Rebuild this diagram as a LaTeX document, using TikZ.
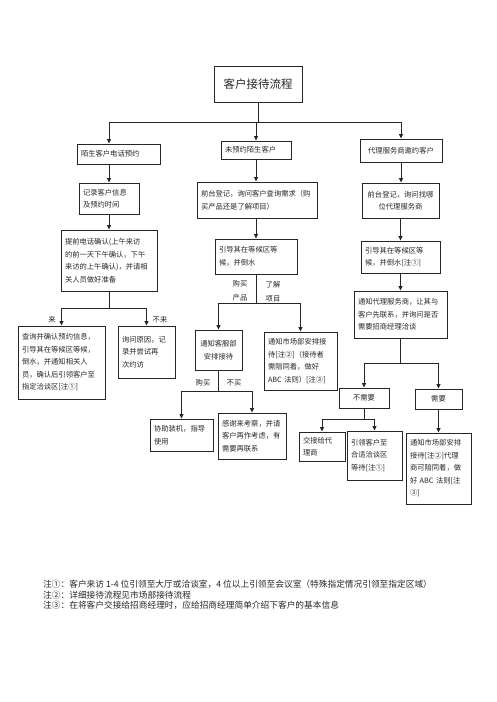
\documentclass[tikz,border=0pt]{standalone}
\usepackage{fontspec}
\usepackage{tikz}
\usetikzlibrary{positioning,arrows.meta}
\newfontfamily\cjk{Noto Sans CJK SC}

\tikzset{
  box/.style={draw=black!85, line width=0.9pt, inner xsep=4pt, inner ysep=3pt, align=left,
    font=\cjk\fontsize{7.3}{12.5}\selectfont, text=black!85},
  cbox/.style={box, align=center},
  conn/.style={draw=black!85, line width=0.9pt},
  arr/.style={conn, -{Triangle[length=4.5pt,width=4pt]}},
  lbl/.style={font=\cjk\fontsize{7.3}{12.5}\selectfont, inner sep=0pt, align=center, text=black!85},
}

\begin{document}
\begin{tikzpicture}[x=1pt, y=-1pt]
\useasboundingbox (0,0) rectangle (496,702);
% title
\node[cbox, text width=80pt, minimum height=36pt, font=\cjk\fontsize{11.5}{14}\selectfont] (title) at (258,84) {客户接待流程};
% first row
\node[box, text width=75pt, minimum height=20pt] (L1) at (118.5,154) {陌生客户电话预约};
\node[box, text width=62pt, minimum height=18pt] (M1) at (256,150) {未预约陌生客户};
\node[cbox, text width=74pt, minimum height=23pt] (R1) at (401,150.5) {代理服务商邀约客户};
% second row
\node[box, text width=52pt, minimum height=31pt] (L2) at (109,198.5) {记录客户信息\\及预约时间};
\node[box, text width=112pt, minimum height=36pt] (M2) at (257,200) {前台登记，询问客户查询需求（购\\买产品还是了解项目）};
\node[cbox, text width=69pt, minimum height=35pt] (R2) at (400.5,200.5) {前台登记，询问找哪\\位代理服务商};
% third row
\node[box, text width=88pt, minimum height=61pt] (L3) at (109,260.5) {提前电话确认(上午来访\\的前一天下午确认，下午\\来访的上午确认)，并请相\\关人员做好准备};
\node[box, text width=74pt, minimum height=35pt] (M3) at (256,256.5) {引导其在等候区等\\候，并倒水};
\node[box, text width=71pt, minimum height=32pt] (R3) at (400.5,257) {引导其在等候区等\\候，并倒水[注①]};
\node[box, text width=85pt, minimum height=47pt] (R4) at (400.5,314.5) {通知代理服务商，让其与\\客户先联系，并询问是否\\需要招商经理洽谈};
% fourth row
\node[box, text width=79pt, minimum height=73pt] (L4) at (61.5,362.5) {查询并确认预约信息，\\引导其在等候区等候，\\倒水，并通知相关人\\员，确认后引领客户至\\指定洽谈区[注①]};
\node[box, text width=49pt, minimum height=52pt] (L5) at (146.5,352) {询问原因，记\\录并尝试再\\次约访};
\node[cbox, text width=39pt, minimum height=40pt] (M4) at (218.5,350) {通知客服部\\安排接待};
\node[box, text width=65pt, minimum height=58pt] (M5) at (300.5,361) {通知市场部安排接\\待[注②]（接待者\\需陪同着，做好\\ABC 法则）[注③]};
\node[cbox, text width=42pt, minimum height=20pt] (R5) at (364,398) {不需要};
\node[cbox, text width=39pt, minimum height=20pt] (R6) at (438.5,399) {需要};
% fifth row
\node[box, text width=55pt, minimum height=32pt] (M6) at (181.5,435) {协助装机，指导\\使用};
\node[box, text width=60pt, minimum height=46pt] (M7) at (252,436) {感谢来考察，并请\\客户再作考虑，有\\需要再联系};
\node[box, text width=38pt, minimum height=29pt] (R7) at (322,446.5) {交接给代\\理商};
\node[box, text width=47pt, minimum height=49pt] (R8) at (374.5,455.5) {引领客户至\\合适洽谈区\\等待[注①]};
\node[box, text width=57pt, minimum height=71pt] (R9) at (438.5,468.5) {通知市场部安排\\接待[注②]代理\\商可陪同着，做\\好 ABC 法则[注\\③]};

% connectors from the title
\coordinate (top) at (0,122);
\draw[conn] (title.south) -- (title.south |- top);
\draw[conn] (top -| L2.north) -- (top -| R1.north);
\draw[arr] (top -| L2.north) -- (L1.north -| L2.north);
\draw[arr] (top -| M1.north) -- (M1.north);
\draw[arr] (top -| R1.north) -- (R1.north);
% left column
\draw[arr] (L1.south -| L2.north) -- (L2.north);
\draw[arr] (L2.south) -- (L3.north);
\draw[conn] (L3.south) -- ++(0,17) coordinate (l3s);
\draw[arr] (l3s) -| (L4.north);
\draw[arr] (l3s) -| (L5.north);
\node[lbl] (come) at (52,320) {来};
\node[lbl] (nocome) at (160,320) {不来};
% middle column
\draw[arr] (M1.south) -- (M1.south |- M2.north);
\draw[arr] (M2.south -| M3.north) -- (M3.north);
\draw[conn] (M3.south) -- ++(0,29) coordinate (m3s);
\draw[arr] (m3s) -| (M4.north);
\draw[arr] (m3s) -| (M5.north);
\node[lbl, font=\cjk\fontsize{7.3}{14.5}\selectfont] (buyprod) at (240,290.5) {购买\\产品};
\node[lbl, font=\cjk\fontsize{7.3}{14.5}\selectfont] (learn) at (273,291.5) {了解\\项目};
\draw[conn] (M4.south) -- ++(0,21) coordinate (m4s);
\draw[arr] (m4s) -| (M6.north);
\draw[arr] (m4s) -| (M7.north);
\node[lbl] (buy) at (203,383) {购买};
\node[lbl] (nobuy) at (234,383) {不买};
% right column
\draw[arr] (R1.south) -- (R1.south |- R2.north);
\draw[arr] (R2.south) -- (R2.south |- R3.north);
\draw[arr] (R3.south) -- (R3.south |- R4.north);
\draw[conn] (R4.south) -- ++(0,25) coordinate (r4s);
\draw[arr] (r4s) -| (R5.north);
\draw[arr] (r4s) -| (R6.north);
\draw[conn] (R5.south) -- ++(0,11) coordinate (r5s);
\draw[arr] (r5s) -| (R7.north);
\draw[arr] (r5s) -| (R8.north);
\draw[arr] (R6.south) -- (R6.south |- R9.north);

% notes
\node[lbl, anchor=north west, align=left, font=\cjk\fontsize{8.7}{10.4}\selectfont] (notes) at (43,580)
{注①：客户来访 1-4 位引领至大厅或洽谈室，4 位以上引领至会议室（特殊指定情况引领至指定区域）\\
注②：详细接待流程见市场部接待流程\\
注③：在将客户交接给招商经理时，应给招商经理简单介绍下客户的基本信息};
\end{tikzpicture}
\end{document}
